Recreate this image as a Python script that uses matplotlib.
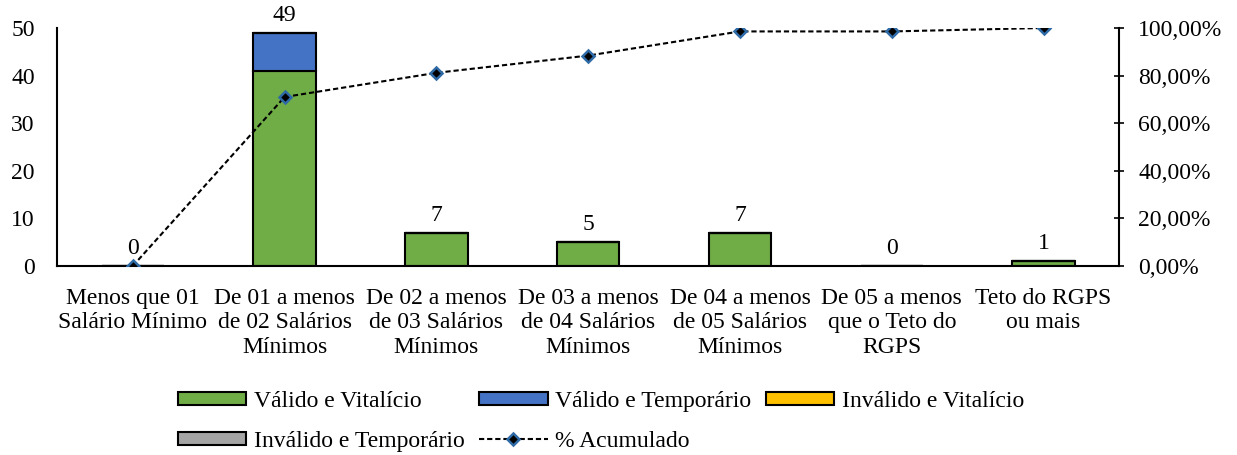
import numpy as np
import matplotlib
matplotlib.use("Agg")
import matplotlib.pyplot as plt
from matplotlib.patches import Patch
from matplotlib.lines import Line2D
from matplotlib.ticker import FuncFormatter

plt.rcParams['font.family'] = ['Liberation Serif', 'DejaVu Serif']
plt.rcParams['font.size'] = 17

# Dados
categorias = ['Menos que 01\nSalário Mínimo', 'De 01 a menos\nde 02 Salários\nMínimos',
              'De 02 a menos\nde 03 Salários\nMínimos', 'De 03 a menos\nde 04 Salários\nMínimos',
              'De 04 a menos\nde 05 Salários\nMínimos', 'De 05 a menos\nque o Teto do\nRGPS',
              'Teto do RGPS\nou mais']
valido_vitalicio = [0, 41, 7, 5, 7, 0, 1]
valido_temporario = [0, 8, 0, 0, 0, 0, 0]
invalido_vitalicio = [0, 0, 0, 0, 0, 0, 0]
invalido_temporario = [0, 0, 0, 0, 0, 0, 0]

series = [valido_vitalicio, valido_temporario, invalido_vitalicio, invalido_temporario]
nomes = ['Válido e Vitalício', 'Válido e Temporário', 'Inválido e Vitalício', 'Inválido e Temporário']
cores = ['#70AD47', '#4472C4', '#FFC000', '#A5A5A5']

total = np.sum(series, axis=0)
acumulado = np.cumsum(total) / total.sum() * 100

fig = plt.figure(figsize=(12.37, 4.55), dpi=100)
ax = fig.add_axes([0.046, 0.4154, 0.859, 0.5231])
x = np.arange(len(categorias))

base = np.zeros(len(categorias))
for s, c in zip(series, cores):
    ax.bar(x, s, bottom=base, width=0.41, color=c, edgecolor='black', linewidth=1.5, zorder=2)
    base += np.array(s)

for i, v in enumerate(total):
    ax.annotate(str(v), (x[i], v), xytext=(0, 5), textcoords='offset points',
                ha='center', va='bottom')

ax.set_xlim(-0.5, len(categorias) - 0.5)
ax.set_ylim(0, 50)
ax.set_yticks([0, 10, 20, 30, 40, 50])
ax.set_xticks(x)
ax.set_xticklabels(categorias, linespacing=1.2)
ax.tick_params(axis='x', length=0, pad=16)
ax.tick_params(axis='y', length=0, pad=16)
for sp in ['top', 'right']:
    ax.spines[sp].set_visible(False)
ax.spines['left'].set_linewidth(1.5)
ax.spines['bottom'].set_linewidth(1.5)

estilo_linha = dict(linestyle=(0, (2.5, 1.4)), color='black', linewidth=1.5,
                    marker='D', markersize=6, markerfacecolor='black',
                    markeredgecolor='#2E6AA6', markeredgewidth=1.8)

ax2 = ax.twinx()
ax2.plot(x, acumulado, zorder=3, **estilo_linha)
ax2.set_ylim(0, 100)
ax2.set_yticks([0, 20, 40, 60, 80, 100])
ax2.yaxis.set_major_formatter(FuncFormatter(lambda v, p: f'{v:.2f}'.replace('.', ',') + '%'))
ax2.tick_params(axis='y', direction='inout', length=7, width=1.2, pad=10)
for sp in ['top', 'left', 'bottom']:
    ax2.spines[sp].set_visible(False)
ax2.spines['right'].set_linewidth(1.5)

# Legenda: 3 colunas, ordem para preencher por linhas
handles = [Patch(facecolor=c, edgecolor='black', linewidth=1.5) for c in cores]
linha = Line2D([0], [0], **estilo_linha)
ordem_h = [handles[0], handles[3], handles[1], linha, handles[2]]
ordem_l = [nomes[0], nomes[3], nomes[1], '% Acumulado', nomes[2]]
fig.legend(ordem_h, ordem_l, loc='center left', bbox_to_anchor=(0.1439, 0.0736), ncol=3,
           frameon=False, borderpad=0, borderaxespad=0, handlelength=2.9, handleheight=0.5,
           handletextpad=0.33, columnspacing=0.6, labelspacing=0.8)

fig.savefig('out.png', dpi=100)
